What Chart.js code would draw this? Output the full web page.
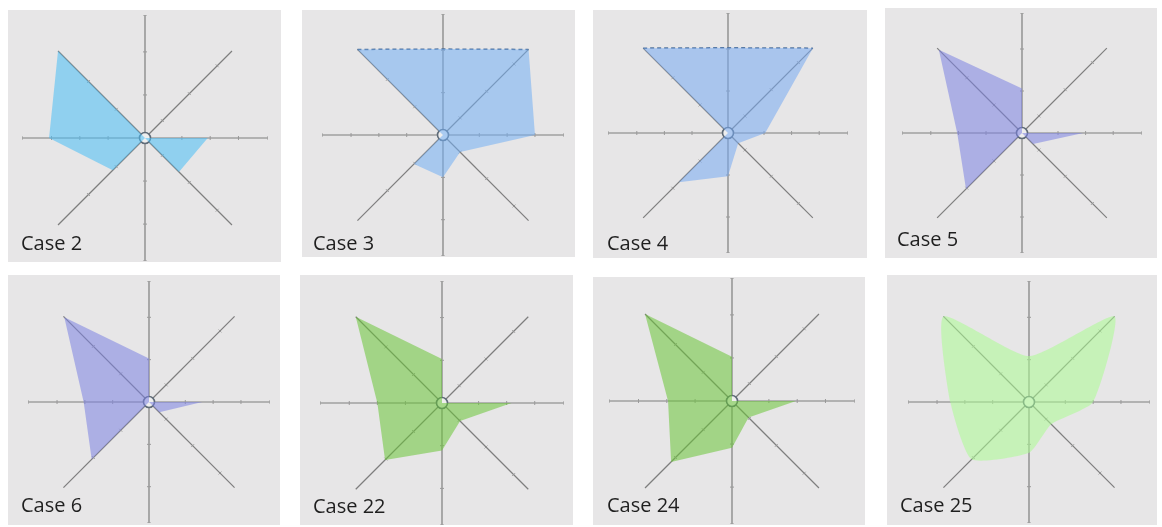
<!DOCTYPE html>
<html>
<head>
<meta charset="utf-8">
<script src="https://cdn.jsdelivr.net/npm/chart.js@4.4.1/dist/chart.umd.min.js"></script>
<style>
  html, body { margin: 0; padding: 0; background: #ffffff; }
  body { width: 1162px; height: 527px; position: relative; overflow: hidden; font-family: "Open Sans", "Noto Sans", sans-serif; }
  .panel { position: absolute; background: #e7e6e7; }
  .cv { position: absolute; }
  .lbl { position: absolute; font-size: 20px; line-height: 20px; color: #1f1f1f; white-space: nowrap; }
</style>
</head>
<body>
<script>
// Spokes, clockwise from the top
const directions = ['N', 'NE', 'E', 'SE', 'S', 'SW', 'W', 'NW'];
const caseNames = ['Case 2', 'Case 3', 'Case 4', 'Case 5', 'Case 6', 'Case 22', 'Case 24', 'Case 25'];

// Spoke values per case (0 = hub, 10 = end of spoke), order N..NW
const case2  = [0,   0,  5.1, 3.9, 0,   3.7, 7.8, 10];
const case3  = [7.1, 10, 7.6, 2.0, 3.5, 3.4, 0,   10];
const case4  = [7.1, 10, 3.1, 1.2, 3.6, 5.8, 0,   10];
const case5  = [3.7, 0,  5.1, 1.3, 0,   6.6, 5.4, 9.8];
const case6  = [3.6, 0,  4.4, 1.2, 0,   6.7, 5.4, 9.9];
const case22 = [3.6, 0,  5.7, 2.1, 3.9, 6.6, 5.3, 10];
const case24 = [3.6, 0,  5.2, 1.9, 3.8, 7.0, 5.2, 10];
const case25 = [3.8, 10, 5.3, 2.6, 4.2, 6.7, 6.5, 10];

// Upper edge of the cases whose top is closed by a dashed line (NW -> N -> NE)
const case3Top = [7.1, 10, null, null, null, null, null, 10];
const case4Top = [7.1, 10, null, null, null, null, null, 10];

// Tick positions along each spoke, order N..NW
const spokeTicks = [
  [3.5, 7, 10],
  [2, 5.1, 8.3],
  [3, 5.3, 7.6, 10],
  [2, 5.1, 8.3],
  [3.5, 7, 10],
  [3.3, 6.5],
  [3, 5.3, 7.6, 10],
  [3.3, 6.5]
];

const seriesList = [case2, case3, case4, case5, case6, case22, case24, case25];
const topEdges = [null, case3Top, case4Top, null, null, null, null, null];

// Panel geometry and styling
const panels = [
  { box: [8, 10, 273, 252],   c: [145, 138],  r: 123, lbl: [21, 251],  fill: 'rgba(72,190,246,0.55)',  dash: null, tension: 0 },
  { box: [302, 10, 273, 247], c: [443, 135],  r: 121, lbl: [313, 251], fill: 'rgba(114,175,244,0.55)', dash: 'rgba(70,105,150,0.9)', tension: 0 },
  { box: [593, 10, 274, 248], c: [728, 133],  r: 120, lbl: [607, 251], fill: 'rgba(118,170,242,0.55)', dash: 'rgba(70,105,150,0.9)', tension: 0 },
  { box: [885, 8, 272, 250],  c: [1022, 133], r: 120, lbl: [897, 247], fill: 'rgba(123,130,226,0.55)', dash: null, tension: 0 },
  { box: [8, 275, 272, 250],  c: [149, 402],  r: 121, lbl: [21, 513],  fill: 'rgba(123,130,226,0.55)', dash: null, tension: 0 },
  { box: [300, 275, 273, 250], c: [442, 403], r: 122, lbl: [313, 514], fill: 'rgba(106,197,55,0.55)',  dash: null, tension: 0 },
  { box: [593, 277, 272, 248], c: [732, 401], r: 123, lbl: [607, 513], fill: 'rgba(106,197,55,0.55)',  dash: null, tension: 0 },
  { box: [887, 275, 270, 250], c: [1029, 402], r: 121, lbl: [900, 513], fill: 'rgba(172,252,146,0.55)', dash: null, tension: 0.18 }
];

const axisColor = '#7e7e7e';

// Small cross marks along the spokes
const spokeTickPlugin = {
  id: 'spokeTicks',
  beforeDatasetsDraw(chart) {
    const s = chart.scales.r;
    const ctx = chart.ctx;
    ctx.save();
    ctx.strokeStyle = '#9a9a9a';
    ctx.lineWidth = 1;
    spokeTicks.forEach((list, i) => {
      const ang = s.getIndexAngle(i) - Math.PI / 2;
      const px = -Math.sin(ang) * 2, py = Math.cos(ang) * 2;
      list.forEach(v => {
        const p = s.getPointPosition(i, s.getDistanceFromCenterForValue(v));
        ctx.beginPath();
        ctx.moveTo(p.x - px, p.y - py);
        ctx.lineTo(p.x + px, p.y + py);
        ctx.stroke();
      });
    });
    ctx.restore();
  }
};

// Hollow ring at the hub
const hubPlugin = {
  id: 'hub',
  beforeDatasetsDraw(chart) {
    const s = chart.scales.r;
    const ctx = chart.ctx;
    ctx.save();
    ctx.beginPath();
    ctx.arc(s.xCenter, s.yCenter, 5.5, 0, Math.PI * 2);
    ctx.fillStyle = '#eeeeee';
    ctx.fill();
    ctx.lineWidth = 1.6;
    ctx.strokeStyle = '#5f6b78';
    ctx.stroke();
    ctx.restore();
  }
};

panels.forEach((p, k) => {
  const box = document.createElement('div');
  box.className = 'panel';
  box.style.left = p.box[0] + 'px';
  box.style.top = p.box[1] + 'px';
  box.style.width = p.box[2] + 'px';
  box.style.height = p.box[3] + 'px';
  document.body.appendChild(box);

  const cv = document.createElement('canvas');
  cv.className = 'cv';
  cv.width = 2 * p.r;
  cv.height = 2 * p.r;
  cv.style.left = (p.c[0] - p.r) + 'px';
  cv.style.top = (p.c[1] - p.r) + 'px';
  cv.style.width = 2 * p.r + 'px';
  cv.style.height = 2 * p.r + 'px';
  document.body.appendChild(cv);

  const lbl = document.createElement('div');
  lbl.className = 'lbl';
  lbl.textContent = caseNames[k];
  lbl.style.left = p.lbl[0] + 'px';
  lbl.style.top = (p.lbl[1] - 18) + 'px';
  document.body.appendChild(lbl);

  const datasets = [{
    label: caseNames[k],
    data: seriesList[k],
    backgroundColor: p.fill,
    borderWidth: 0,
    pointRadius: 0,
    fill: 'origin',
    tension: p.tension
  }];
  if (topEdges[k]) {
    datasets.push({
      label: caseNames[k] + ' top',
      data: topEdges[k],
      borderColor: p.dash,
      borderWidth: 1.5,
      borderDash: [4, 3],
      pointRadius: 0,
      fill: false,
      spanGaps: false,
      tension: 0
    });
  }

  new Chart(cv, {
    type: 'radar',
    data: { labels: directions, datasets },
    options: {
      responsive: false,
      animation: false,
      events: [],
      layout: { padding: 0 },
      plugins: { legend: { display: false }, tooltip: { enabled: false }, title: { display: false } },
      scales: {
        r: {
          min: 0,
          max: 10,
          grid: { display: false },
          ticks: { display: false },
          pointLabels: { display: false },
          angleLines: { display: true, color: axisColor, lineWidth: 1.2 }
        }
      }
    },
    plugins: [spokeTickPlugin, hubPlugin]
  });
});
</script>
</body>
</html>
